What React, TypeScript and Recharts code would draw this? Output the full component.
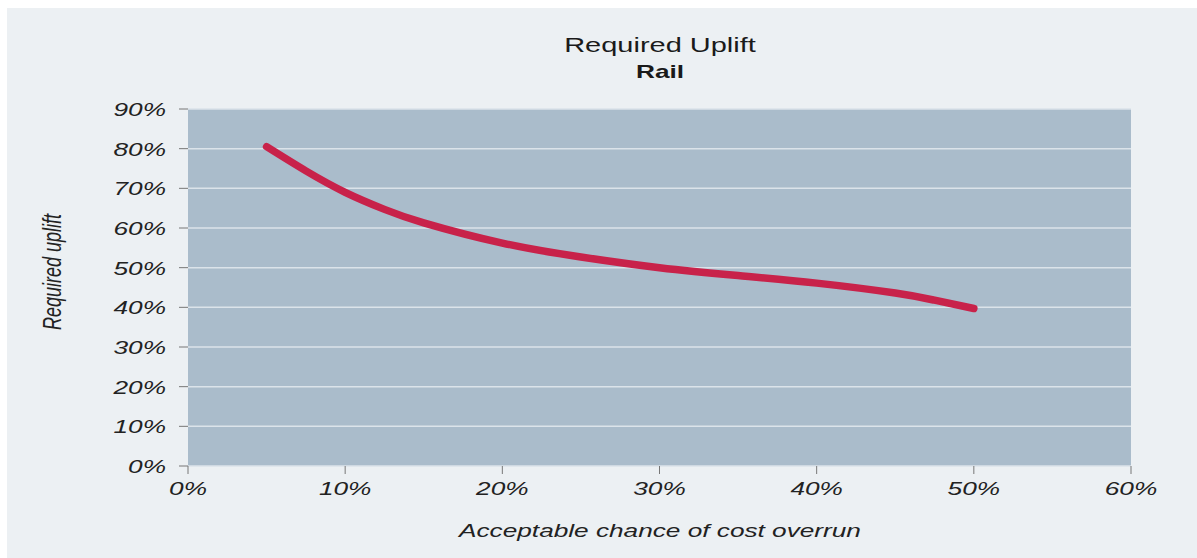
import React from "react";
import { CartesianGrid, Line, LineChart, XAxis, YAxis } from "recharts";

// acceptable chance of cost overrun (%) -> required uplift (%)
const overrunChance = [5, 7.5, 10, 12.5, 15, 20, 25, 30, 35, 40, 45, 47.5, 50];
const requiredUplift = [80.5, 74.4, 69.0, 64.7, 61.3, 56.2, 52.7, 50.0, 48.0, 46.1, 43.6, 41.8, 39.7];
const xTicks = [0, 10, 20, 30, 40, 50, 60];
const yTicks = [0, 10, 20, 30, 40, 50, 60, 70, 80, 90];

const data = overrunChance.map((x, i) => ({ x, uplift: requiredUplift[i] }));

const FONT = '"Liberation Sans", Arial, sans-serif';
const SX = 1.38; // source image is stretched sideways

function XTick(props: any) {
  const { x, y, payload } = props;
  return (
    <g transform={`translate(${x},${y + 19}) scale(${SX},1)`}>
      <text x={0} y={0} textAnchor="middle" fontFamily={FONT} fontStyle="italic" fontSize={19} fill="#222">
        {payload.value}%
      </text>
    </g>
  );
}

function YTick(props: any) {
  const { x, y, payload } = props;
  return (
    <g transform={`translate(${x - 11},${y + 7}) scale(${SX},1)`}>
      <text x={0} y={0} textAnchor="end" fontFamily={FONT} fontStyle="italic" fontSize={19} fill="#222">
        {payload.value}%
      </text>
    </g>
  );
}

export default function App() {
  return (
    <div style={{ position: "absolute", left: 0, top: 0, width: 1197, height: 558 }}>
      <div style={{ position: "absolute", left: 7, top: 8, width: 1190, height: 550, background: "#ecf0f3" }}>
        <LineChart width={1190} height={550} data={data} margin={{ top: 101, right: 66, bottom: 52, left: 91 }}>
          <CartesianGrid vertical={false} fill="#aabccb" stroke="#dbe3ea" strokeWidth={1.5} fillOpacity={1} />
          <XAxis
            dataKey="x"
            type="number"
            domain={[0, 60]}
            ticks={xTicks}
            axisLine={false}
            tickSize={8}
            tickLine={{ stroke: "#777" }}
            height={40}
            tick={<XTick />}
            interval={0}
          />
          <YAxis
            type="number"
            domain={[0, 90]}
            ticks={yTicks}
            axisLine={false}
            tickSize={9}
            tickLine={{ stroke: "#777" }}
            width={90}
            tick={<YTick />}
            interval={0}
          />
          <Line
            dataKey="uplift"
            type="natural"
            stroke="#c8224a"
            strokeWidth={7.5}
            strokeLinecap="round"
            dot={false}
            activeDot={false}
            isAnimationActive={false}
          />
        </LineChart>
      </div>
      <svg width={1197} height={558} style={{ position: "absolute", left: 0, top: 0, pointerEvents: "none" }}>
        <g transform={`translate(660,52) scale(${SX},1)`}>
          <text textAnchor="middle" fontFamily={FONT} fontSize={21} fill="#1a1a1a">
            Required Uplift
          </text>
        </g>
        <g transform={`translate(660,78) scale(${SX},1)`}>
          <text textAnchor="middle" fontFamily={FONT} fontSize={19} fontWeight="bold" fill="#1a1a1a">
            Rail
          </text>
        </g>
        <g transform={`translate(660,537) scale(${SX},1)`}>
          <text textAnchor="middle" fontFamily={FONT} fontSize={19} fontStyle="italic" fill="#222">
            Acceptable chance of cost overrun
          </text>
        </g>
        <g transform={`translate(61,272) scale(${SX},1) rotate(-90)`}>
          <text textAnchor="middle" fontFamily={FONT} fontSize={18} fontStyle="italic" fill="#222">
            Required uplift
          </text>
        </g>
      </svg>
    </div>
  );
}
